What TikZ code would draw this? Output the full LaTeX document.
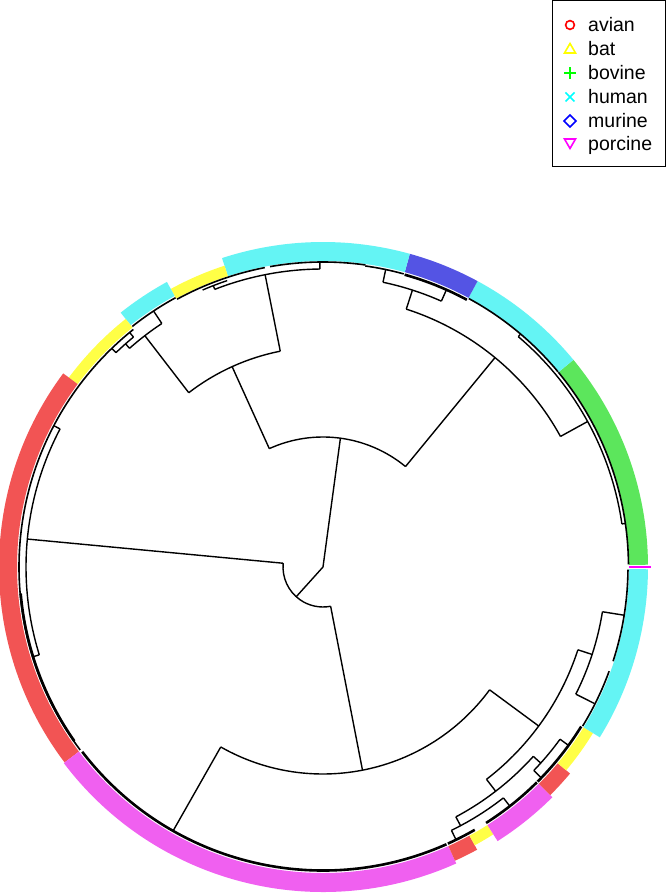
\documentclass[tikz,border=0pt]{standalone}
\usepackage{fontspec}
\setmainfont{Liberation Sans}
\begin{document}
\begin{tikzpicture}[x=1pt,y=1pt,
  treeline/.style={line width=1.4pt,line cap=butt},
  tipline/.style={line width=1.6pt},
  densetip/.style={line width=2.6pt},
  legtext/.style={anchor=base west,font=\fontsize{19.5}{20}\selectfont,inner sep=0pt},
  legsym/.style={line width=1.6pt}]
\definecolor{rred}{RGB}{242,84,84}
\definecolor{rcyan}{RGB}{100,244,244}
\definecolor{rblue}{RGB}{84,84,228}
\definecolor{rgreen}{RGB}{92,230,92}
\definecolor{rmag}{RGB}{240,96,240}
\definecolor{ryel}{RGB}{255,255,70}
\definecolor{lred}{RGB}{255,0,0}
\definecolor{lyel}{RGB}{255,255,0}
\definecolor{lgreen}{RGB}{0,255,0}
\definecolor{lcyan}{RGB}{0,255,255}
\definecolor{lblue}{RGB}{0,0,255}
\definecolor{lmag}{RGB}{255,0,255}
\useasboundingbox (-323,-329) rectangle (343,567);
\fill[white] (-323,-329) rectangle (343,567);
% --- helper macros
\newcommand{\rad}[3]{\draw[treeline] (#1:#2pt) -- (#1:#3pt);}
\newcommand{\fan}[3]{\draw[treeline] (#2:#1pt) arc[start angle=#2,end angle=#3,radius=#1pt];}
\newcommand{\tips}[4][tipline]{\draw[#1] (#3:#2pt) arc[start angle=#3,end angle=#4,radius=#2pt];}
\newcommand{\seg}[5]{\fill[#1] (#2:#4pt) arc[start angle=#2,end angle=#3,radius=#4pt] -- (#3:#5pt) arc[start angle=#3,end angle=#2,radius=#5pt] -- cycle;}
% --- colour ring
\seg{rgreen}{0.4}{39.6}{306}{325}
\seg{rcyan}{39.6}{61.6}{306}{325}
\seg{rblue}{61.6}{74.5}{306}{325}
\seg{rcyan}{74.5}{108.1}{306}{325}
\seg{ryel}{108.1}{118.7}{306}{317}
\seg{rcyan}{118.7}{128.5}{309}{325}
\seg{ryel}{128.5}{143.3}{306}{317}
\seg{rred}{143.3}{217.1}{306}{324}
\seg{rmag}{217.1}{294.2}{306}{325}
\seg{rred}{294.2}{298.6}{306}{322}
\seg{ryel}{298.6}{302.5}{306}{317}
\seg{rmag}{302.5}{314.9}{306}{325}
\seg{rred}{314.9}{320.1}{306}{322}
\seg{ryel}{320.1}{328.4}{306}{317}
\seg{rcyan}{328.4}{359.6}{306}{325}
\draw[lmag,line width=2pt] (0:306pt) -- (0:328pt);
% --- tree: root and first split
\coordinate (root) at (0,0);
\rad{82.3}{0}{130}
\rad{228}{0}{40}
% B
\fan{40}{174.6}{281}
\rad{174.6}{40}{297}
\fan{297}{152.3}{197.2}
\rad{152.3}{297}{304}
\rad{197.2}{297}{304}
\tips{304}{136.5}{217}
\tips[densetip]{303.5}{185}{215}
\rad{281}{40}{207}
\fan{207}{240.4}{323.6}
\rad{240.4}{207}{304}
\tips[densetip]{303.5}{217.5}{294}
\rad{323.6}{207}{268}
\fan{268}{307.6}{342}
\rad{342}{268}{283}
\fan{283}{333.3}{350.9}
\rad{350.9}{283}{305}
\rad{333.3}{283}{304}
\tips{304.5}{328.5}{340}
\tips{305}{342}{359.5}
\rad{307.6}{268}{283}
\fan{283}{298}{318}
\rad{298}{283}{293}
\fan{293}{296}{308}
\rad{296}{293}{304}
\rad{308}{293}{304}
\tips[densetip]{303.5}{294.3}{300}
\tips[densetip]{303.5}{302.5}{314.8}
\rad{318}{283}{293}
\fan{293}{316}{324}
\rad{316}{293}{304}
\rad{324}{293}{304}
\tips[densetip]{303.5}{315}{328.3}
% A
\fan{130}{50.6}{114.4}
\rad{114.4}{130}{220}
\fan{220}{101.2}{127.6}
\rad{127.6}{220}{292}
\fan{292}{123.5}{131.5}
\rad{123.5}{292}{307}
\tips{307}{118.7}{128.4}
\rad{131.5}{292}{298}
\fan{298}{129.5}{134}
\rad{129.5}{298}{304}
\rad{134}{298}{304}
\tips{304}{128.6}{136.5}
\rad{101.2}{220}{298}
\fan{298}{90.6}{111.3}
\rad{90.6}{298}{306}
\rad{111.3}{298}{302}
\fan{302}{108.5}{113.5}
\tips{305}{101}{118.6}
\tips{305}{82}{100}
\rad{50.6}{130}{271}
\fan{271}{28.8}{72.1}
\rad{72.1}{271}{291}
\fan{291}{66}{78.1}
\rad{78.1}{291}{304}
\tips{304}{74.6}{82}
\rad{66}{291}{303}
\tips[densetip]{303.5}{61.7}{74.4}
\rad{28.8}{271}{302}
\fan{302}{8.2}{49.7}
\rad{49.7}{302}{305}
\rad{8.2}{302}{305}
\tips{305.5}{39.7}{61.5}
\tips{305.5}{0.5}{39.6}
% --- legend
\draw[line width=1pt] (229,566) rectangle (342,400);
\draw[legsym,lred] (247,542) circle[radius=4.4pt];
\draw[legsym,lyel] (241.5,514) -- (252.5,514) -- (247,523.5) -- cycle;
\draw[legsym,lgreen] (241,494) -- (253,494) (247,488) -- (247,500);
\draw[legsym,lcyan] (242.5,465.5) -- (251.5,474.5) (242.5,474.5) -- (251.5,465.5);
\draw[legsym,lblue] (247,452) -- (253,446) -- (247,440) -- (241,446) -- cycle;
\draw[legsym,lmag] (241.5,428) -- (252.5,428) -- (247,418.5) -- cycle;
\node[legtext] (l1) at (265,535) {avian};
\node[legtext] (l2) at (265,511) {bat};
\node[legtext] (l3) at (265,487) {bovine};
\node[legtext] (l4) at (265,463) {human};
\node[legtext] (l5) at (265,439) {murine};
\node[legtext] (l6) at (265,416) {porcine};
\end{tikzpicture}
\end{document}
